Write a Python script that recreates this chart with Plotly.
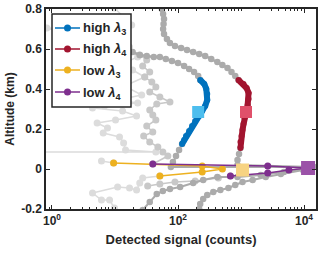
import plotly.graph_objects as go

# ---------------- data (counts, altitude km) ----------------
# high lambda4 profile
hi4_gray_top_counts = [55.5, 58, 60, 59, 58, 60, 66.7, 74.5, 89.5, 112, 139, 174, 217, 270, 337, 421, 506, 610, 706, 811, 912]
hi4_gray_top_alt = [0.8, 0.775, 0.75, 0.725, 0.7, 0.675, 0.65, 0.63, 0.615, 0.605, 0.595, 0.585, 0.575, 0.565, 0.55, 0.535, 0.52, 0.505, 0.485, 0.465, 0.445]
hi4_counts = [912, 1096, 1225, 1318, 1318, 1274, 1225, 1134, 1096, 1057, 1019, 980, 980]
hi4_alt = [0.445, 0.425, 0.405, 0.38, 0.35, 0.32, 0.29, 0.255, 0.225, 0.195, 0.165, 0.135, 0.105]
hi4_gray_bot_counts = [980, 930, 879, 879, 13930, 9638, 4285, 2466, 1528, 1057, 811, 631, 470, 363, 291, 251, 225, 217]
hi4_gray_bot_alt = [0.105, 0.075, 0.045, 0.02, 0.01, -0.005, -0.025, -0.04, -0.055, -0.065, -0.08, -0.095, -0.105, -0.115, -0.13, -0.15, -0.175, -0.2]
hi4_square = (1200, 0.285)

# high lambda3 profile
hi3_gray_top_counts = [19, 24.7, 31.9, 41.2, 51.5, 64, 80, 100, 125, 150, 180, 209, 225]
hi3_gray_top_alt = [0.585, 0.57, 0.565, 0.56, 0.56, 0.55, 0.54, 0.53, 0.515, 0.5, 0.485, 0.465, 0.445]
hi3_counts = [225, 261, 281, 291, 291, 270, 242, 217, 187, 167, 150, 134, 125, 116]
hi3_alt = [0.445, 0.425, 0.4, 0.375, 0.345, 0.315, 0.29, 0.265, 0.24, 0.215, 0.19, 0.165, 0.145, 0.125]
hi3_gray_bot_counts = [116, 104, 93, 83, 77, 14450, 4786, 2051, 879, 421, 251, 174, 108, 74.5, 57.5, 46, 35.6, 27.5]
hi3_gray_bot_alt = [0.125, 0.095, 0.065, 0.035, 0.01, 0.01, -0.015, -0.03, -0.04, -0.04, -0.055, -0.07, -0.09, -0.1, -0.11, -0.125, -0.165, -0.205]
hi3_square = (209, 0.285)

# low lambda4 profile
lo4_gray_top_counts = [24.7, 31.9, 27.5, 35.6, 29.6, 38.4, 44.5, 35.6, 51.5, 74.5, 46, 35.6, 39.8, 44.5, 31.9, 39.8, 28.5, 35.6, 47.9, 57.5, 69, 39.8]
lo4_gray_top_alt = [0.57, 0.545, 0.515, 0.485, 0.46, 0.435, 0.41, 0.385, 0.36, 0.335, 0.325, 0.295, 0.27, 0.245, 0.215, 0.185, 0.165, 0.135, 0.11, 0.085, 0.065, 0.025]
lo4_counts = [39.8, 2655, 11590, 5754, 2655, 679]
lo4_alt = [0.025, 0.015, 0.005, -0.005, -0.02, -0.035]
lo4_gray_bot_counts = [679, 437, 187, 89.5, 51.5, 33]
lo4_gray_bot_alt = [-0.035, -0.045, -0.06, -0.065, -0.075, -0.085]
lo4_square = (11590, 0.005)

# low lambda3 profile
lo3_gray_top_counts = [9.8, 18.4, 3.9, 0.83, 4.7, 17, 22.9, 12.7, 19, 29.6, 14.2, 26.5, 11, 22.9, 6.8, 4.4, 13.2, 22, 10.2, 5.2, 7.6, 6.5, 11.8, 13.7, 14.7, 44.5, 0.05]
lo3_gray_top_alt = [0.805, 0.72, 0.695, 0.705, 0.635, 0.61, 0.56, 0.525, 0.495, 0.46, 0.415, 0.37, 0.345, 0.33, 0.315, 0.305, 0.29, 0.265, 0.245, 0.23, 0.205, 0.18, 0.16, 0.13, 0.095, 0.085, 0.085]
lo3_gray_lead_counts = [6.1, 9.5]
lo3_gray_lead_alt = [0.04, 0.03]
lo3_counts = [9.5, 242, 506, 242, 51.5]
lo3_alt = [0.03, 0.015, 0.0, -0.015, -0.035]
lo3_gray_bot_counts = [51.5, 27.5, 24.7, 22, 17, 11, 4.4, 6.1, 8.2, 9.8]
lo3_gray_bot_alt = [-0.035, -0.045, -0.07, -0.105, -0.095, -0.09, -0.12, -0.155, -0.155, -0.195]
lo3_square = (1057, -0.005)

series_names = ["high <i>λ</i><sub>3</sub>", "high <i>λ</i><sub>4</sub>",
                "low <i>λ</i><sub>3</sub>", "low <i>λ</i><sub>4</sub>"]

x_tickvals = [1, 100, 10000]
x_ticktext = ["10<sup>0</sup>", "10<sup>2</sup>", "10<sup>4</sup>"]
y_tickvals = [-0.2, 0, 0.2, 0.4, 0.6, 0.8]
y_ticktext = ["-0.2", "0", "0.2", "0.4", "0.6", "0.8"]

# ---------------- styles ----------------
BLUE, RED, YEL, PUR = "#0072BD", "#A2142F", "#EDB120", "#7E2F8E"
G_HI, G_LO4, G_LO3 = "#ababab", "#c8c8c8", "#dcdcdc"
INK = "#262626"
FONT = "Liberation Sans, Arial, sans-serif"

# plot-area geometry (px) for the hand-drawn legend box
W, H = 320, 253
ML, MR, MT, MB = 46, 4, 9, 44
PW, PH = W - ML - MR, H - MT - MB

def px(xp):
    return (xp - ML) / PW

def py(yp):
    return (H - MB - yp) / PH

fig = go.Figure()

def gray(x, y, color, lw=2.0, ms=6.5):
    fig.add_trace(go.Scatter(x=x, y=y, mode="lines+markers", showlegend=False,
                             line=dict(color=color, width=lw),
                             marker=dict(color=color, size=ms), hoverinfo="skip"))

# low profiles (light gray)
gray(lo3_gray_top_counts, lo3_gray_top_alt, G_LO3, 1.5, 7)
gray(lo3_gray_lead_counts, lo3_gray_lead_alt, G_LO3, 1.5, 7)
gray(lo3_gray_bot_counts, lo3_gray_bot_alt, G_LO3, 1.5, 7)
gray(lo4_gray_top_counts, lo4_gray_top_alt, G_LO4, 1.5, 7)
gray(lo4_gray_bot_counts, lo4_gray_bot_alt, G_LO4, 1.5, 7)
# high profiles (medium gray)
gray(hi3_gray_top_counts, hi3_gray_top_alt, G_HI, 2.5, 6.5)
gray(hi3_gray_bot_counts, hi3_gray_bot_alt, G_HI, 2.0, 6.5)
gray(hi4_gray_top_counts, hi4_gray_top_alt, G_HI, 2.5, 6.5)
gray(hi4_gray_bot_counts, hi4_gray_bot_alt, G_HI, 2.0, 6.5)

# thick bands under the high colored series
for x, y, c in [(hi3_counts, hi3_alt, BLUE), (hi4_counts, hi4_alt, RED)]:
    fig.add_trace(go.Scatter(x=x, y=y, mode="lines", showlegend=False,
                             line=dict(color=c, width=6), hoverinfo="skip"))

def colored(x, y, c, name, ms=7):
    fig.add_trace(go.Scatter(x=x, y=y, mode="lines+markers", name=name, showlegend=False,
                             line=dict(color=c, width=1.5),
                             marker=dict(color=c, size=ms)))

colors = [BLUE, RED, YEL, PUR]
colored(hi3_counts, hi3_alt, BLUE, series_names[0], 6)
colored(hi4_counts, hi4_alt, RED, series_names[1], 6)
colored(lo3_counts, lo3_alt, YEL, series_names[2], 7)
colored(lo4_counts, lo4_alt, PUR, series_names[3], 7)

# ground squares
for (sx, sy), c, s in [(hi3_square, "#4DBEEE", 12), (hi4_square, "#E0506A", 12),
                       (lo3_square, "#F7D382", 13), (lo4_square, "#9B52A8", 14)]:
    fig.add_trace(go.Scatter(x=[sx], y=[sy], mode="markers", showlegend=False,
                             marker=dict(symbol="square", color=c, size=s), hoverinfo="skip"))

# ---------------- legend (MATLAB-style box) ----------------
shapes = [dict(type="rect", xref="paper", yref="paper", x0=px(52), x1=px(131),
               y0=py(107), y1=py(14), fillcolor="white", line=dict(color=INK, width=1.5),
               layer="above")]
annotations = []
entry_y = [28, 49, 70, 92]
for name, c, ey in zip(series_names, colors, entry_y):
    shapes.append(dict(type="line", xref="paper", yref="paper", x0=px(55), x1=px(80),
                       y0=py(ey), y1=py(ey), line=dict(color=c, width=1.5), layer="above"))
    shapes.append(dict(type="circle", xref="paper", yref="paper",
                       x0=px(67.5 - 3.5), x1=px(67.5 + 3.5), y0=py(ey + 3.5), y1=py(ey - 3.5),
                       fillcolor=c, line=dict(color=c, width=0), layer="above"))
    annotations.append(dict(xref="paper", yref="paper", x=px(81), y=py(ey + 1), xanchor="left",
                            yanchor="middle", showarrow=False, text="<b>" + name + "</b>",
                            font=dict(size=13, color=INK, family=FONT)))

minor_vals = [m * 10 ** k for k in range(-1, 5) for m in range(1, 10) if not (m == 1 and k % 2 == 0)]

fig.update_layout(
    width=W, height=H,
    margin=dict(l=ML, r=MR, t=MT, b=MB, autoexpand=False),
    paper_bgcolor="white", plot_bgcolor="white",
    font=dict(family=FONT, size=12, color=INK),
    showlegend=False,
    shapes=shapes, annotations=annotations,
    xaxis=dict(type="log", range=[-0.095, 4.19], automargin=False,
               tickmode="array", tickvals=x_tickvals, ticktext=x_ticktext,
               ticks="inside", ticklen=4, tickcolor=INK,
               minor=dict(tickmode="array", tickvals=minor_vals, ticks="inside",
                          ticklen=2.5, tickcolor=INK),
               showline=True, linecolor=INK, linewidth=1.5, mirror="ticks",
               showgrid=False, zeroline=False,
               tickfont=dict(size=12, family=FONT, weight="bold"),
               title=dict(text="<b>Detected signal (counts)</b>", font=dict(size=13), standoff=8)),
    yaxis=dict(range=[-0.2, 0.8], automargin=False,
               tickmode="array", tickvals=y_tickvals, ticktext=y_ticktext,
               ticks="inside", ticklen=4, tickcolor=INK,
               showline=True, linecolor=INK, linewidth=1.5, mirror="ticks",
               showgrid=False, zeroline=False,
               tickfont=dict(size=12, family=FONT, weight="bold"),
               title=dict(text="<b>Altitude (km)</b>", font=dict(size=12), standoff=4)),
)

fig.write_html("out.html", config={"displayModeBar": False},
               post_script="document.body.style.margin='0';")
